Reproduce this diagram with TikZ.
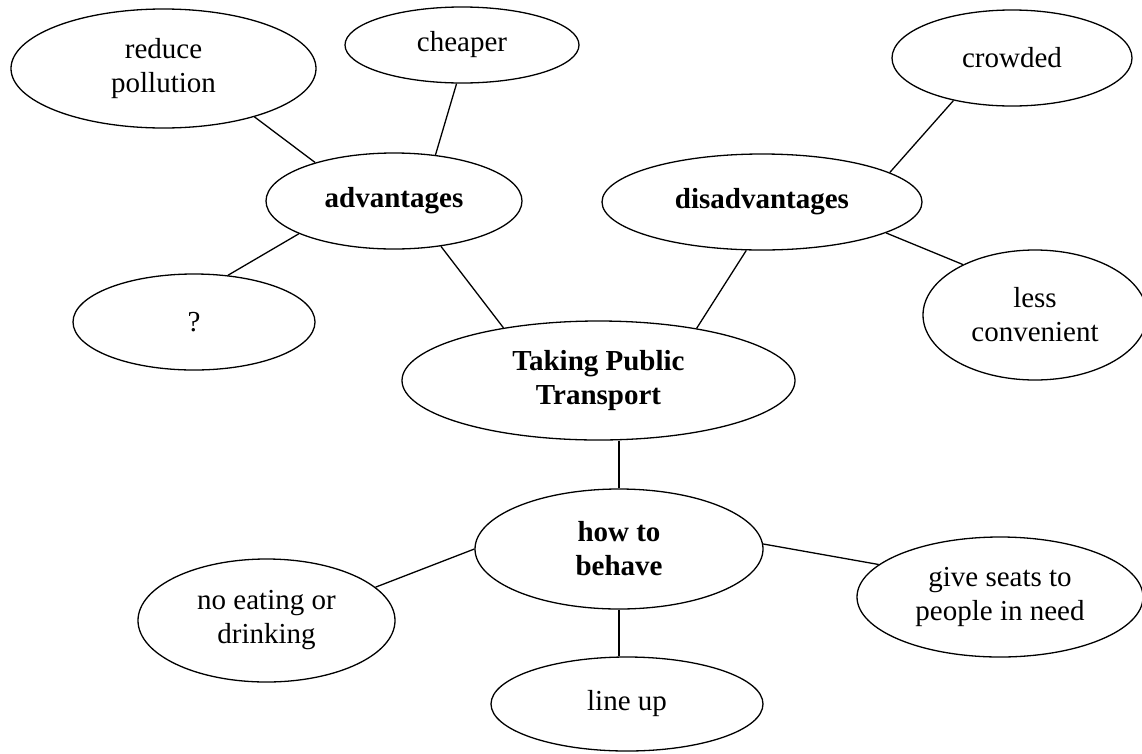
\documentclass[tikz,border=0pt]{standalone}
\usepackage{fontspec}
\setmainfont{Liberation Serif}
\usetikzlibrary{shapes.geometric}
\begin{document}
\begin{tikzpicture}[x=1pt,y=-1pt,
  bub/.style={draw=black,line width=1.3pt,ellipse,inner sep=0pt,align=center,
    font=\fontsize{29}{34}\selectfont},
  hub/.style={bub,font=\fontsize{29}{34}\selectfont\bfseries},
  link/.style={draw=black,line width=1.3pt}]
\useasboundingbox (0,0) rectangle (1142,753);
\node[bub,minimum width=305pt,minimum height=119pt] (rp) at (163.5,68.5) {reduce\\pollution};
\node[bub,minimum width=234pt,minimum height=76pt] (ch) at (462,45) {cheaper};
\node[bub,minimum width=240pt,minimum height=96pt] (cr) at (1012,58) {crowded};
\node[hub,minimum width=256pt,minimum height=96pt] (adv) at (394,201) {advantages};
\node[hub,minimum width=320pt,minimum height=96pt] (dis) at (762,202) {disadvantages};
\node[bub,minimum width=242pt,minimum height=96pt] (q) at (194,322) {?};
\node[bub,minimum width=224pt,minimum height=130pt] (lc) at (1035,315) {less\\convenient};
\node[hub,minimum width=393pt,minimum height=119pt] (tpt) at (598.5,380.5) {Taking Public\\Transport};
\node[hub,minimum width=288pt,minimum height=120pt] (how) at (619,549) {how to\\behave};
\node[bub,minimum width=257pt,minimum height=123pt] (ne) at (266.5,620.5) {no eating or\\drinking};
\node[bub,minimum width=286pt,minimum height=120pt] (gs) at (1000,597) {give seats to\\people in need};
\node[bub,minimum width=272pt,minimum height=94pt] (lu) at (627,704) {line up};
\draw[link] (rp.-28.9) -- (adv.154.3);
\draw[link] (ch.262.9) -- (adv.48.9);
\draw[link] (q.54.9) -- (adv.199.9);
\draw[link] (adv.-44.4) -- (tpt.151.0);
\draw[link] (cr.216.3) -- (dis.13.9);
\draw[link] (dis.-14.8) -- (lc.145.2);
\draw[link] (dis.252.3) -- (tpt.28.5);
\draw[link] (how.north) -- (how.north |- tpt.south);
\draw[link] (how.south) -- (how.south |- lu.north);
\draw[link] (how.180) -- (ne.17.9);
\draw[link] (how.2.4) -- (gs.165.5);
\end{tikzpicture}
\end{document}
